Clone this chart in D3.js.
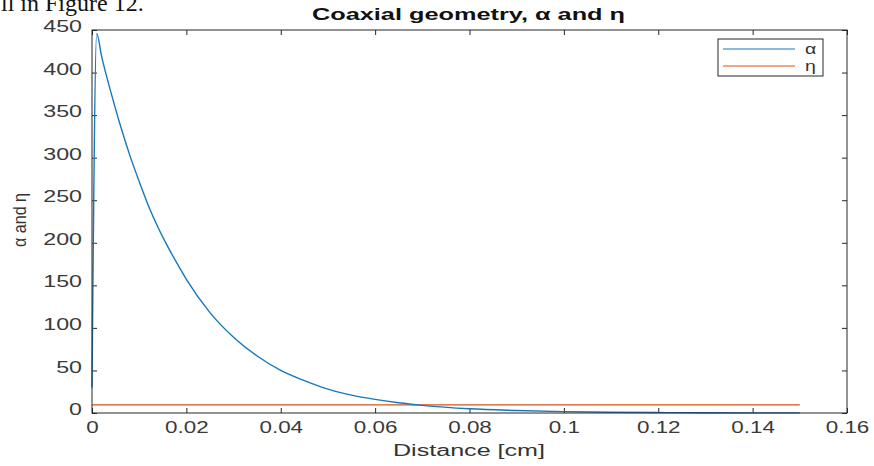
<!DOCTYPE html>
<html>
<head>
<meta charset="utf-8">
<script src="https://cdn.jsdelivr.net/npm/d3@7"></script>
<style>
  html, body { margin: 0; padding: 0; background: #fff; }
  svg { display: block; }
</style>
</head>
<body>
<svg id="chart" width="874" height="466"></svg>
<script>
// ---- data ----
const distance = [0, 0.001, 0.002, 0.004, 0.006, 0.008, 0.010, 0.012, 0.014, 0.016, 0.018, 0.020,
  0.025, 0.030, 0.035, 0.040, 0.045, 0.050, 0.055, 0.060, 0.065, 0.070, 0.080, 0.090,
  0.100, 0.110, 0.120, 0.130, 0.140, 0.150];
const alphaValues = [30, 446, 420, 377, 338, 303, 272, 243, 218, 196, 176, 157,
  118, 89, 67, 50, 38, 28, 21, 16, 12, 9, 5, 3,
  1.6, 0.9, 0.5, 0.3, 0.15, 0.1];
const etaDistance = [0, 0.15];
const etaValues = [9.5, 9.5];
const xTicks = [0, 0.02, 0.04, 0.06, 0.08, 0.1, 0.12, 0.14, 0.16];
const yTicks = [0, 50, 100, 150, 200, 250, 300, 350, 400, 450];
const seriesNames = ["α", "η"];
const titleText = "Coaxial geometry, α and η";
const xLabelText = "Distance [cm]";
const yLabelText = "α and η";
const captionText = "ll in Figure 12.";

// ---- layout ----
const svg = d3.select("#chart");
const L = 92, R = 847, T = 30, B = 413;
const x = d3.scaleLinear().domain([0, 0.16]).range([L, R]);
const y = d3.scaleLinear().domain([0, 450]).range([B, T]);
const axisColor = "#262626";
const textColor = "#333";
const blue = "#1678bb";
const orange = "#D95319";
const tickFont = "Liberation Sans, Arial, sans-serif";

function stretch(sel, factor) {
  sel.each(function () {
    const len = this.getComputedTextLength();
    d3.select(this).attr("textLength", len * factor).attr("lengthAdjust", "spacingAndGlyphs");
  });
}

// caption fragment (document text above the figure, cut at the top edge as in the reference)
svg.append("text")
  .attr("x", 1).attr("y", 11)
  .attr("font-family", "Liberation Serif, Times New Roman, serif")
  .attr("font-size", 24)
  .attr("fill", "#111")
  .text(captionText);

// plot background
svg.append("rect").attr("x", L).attr("y", T).attr("width", R - L).attr("height", B - T).attr("fill", "#fff");

// axes
const fmtX = d => (d === 0 ? "0" : String(+d.toFixed(2)));
const xAxisBottom = d3.axisBottom(x).tickValues(xTicks).tickSize(-5).tickPadding(9).tickFormat(fmtX);
const xAxisTop = d3.axisTop(x).tickValues(xTicks).tickSize(-5).tickFormat("");
const yAxisLeft = d3.axisLeft(y).tickValues(yTicks).tickSize(-5).tickPadding(10);
const yAxisRight = d3.axisRight(y).tickValues(yTicks).tickSize(-5).tickFormat("");

function styleAxis(g) {
  g.select(".domain").remove();
  g.selectAll(".tick line").attr("stroke", axisColor).attr("stroke-width", 1);
  g.selectAll(".tick text").attr("fill", "#3a3a3a").attr("font-family", tickFont).attr("font-size", 16);
}

const gxb = svg.append("g").attr("transform", `translate(0,${B})`).call(xAxisBottom).call(styleAxis);
gxb.selectAll(".tick text").call(stretch, 1.4);
svg.append("g").attr("transform", `translate(0,${T})`).call(xAxisTop).call(styleAxis);
const gyl = svg.append("g").attr("transform", `translate(${L},0)`).call(yAxisLeft).call(styleAxis);
gyl.selectAll(".tick text").attr("dy", "0.1em").call(stretch, 1.45);
svg.append("g").attr("transform", `translate(${R},0)`).call(yAxisRight).call(styleAxis);

// series
const lineGen = d3.line().x(d => x(d[0])).y(d => y(d[1])).curve(d3.curveMonotoneX);
const alphaData = distance.map((d, i) => [d, alphaValues[i]]);
const etaData = etaDistance.map((d, i) => [d, etaValues[i]]);

svg.append("path").datum(etaData).attr("d", lineGen)
  .attr("fill", "none").attr("stroke", orange).attr("stroke-width", 1.1);
svg.append("path").datum(alphaData).attr("d", lineGen)
  .attr("fill", "none").attr("stroke", blue).attr("stroke-width", 1.4).attr("stroke-linejoin", "round");

// box
svg.append("rect").attr("x", L).attr("y", T).attr("width", R - L).attr("height", B - T)
  .attr("fill", "none").attr("stroke", axisColor).attr("stroke-width", 1);

// title
svg.append("text").attr("x", (L + R) / 2 - 1).attr("y", 20)
  .attr("text-anchor", "middle").attr("font-family", tickFont).attr("font-weight", "bold")
  .attr("font-size", 16).attr("fill", "#111")
  .attr("textLength", 313).attr("lengthAdjust", "spacingAndGlyphs")
  .text(titleText);

// x label
svg.append("text").attr("x", 469).attr("y", 456)
  .attr("text-anchor", "middle").attr("font-family", tickFont)
  .attr("font-size", 16).attr("fill", textColor)
  .attr("textLength", 152).attr("lengthAdjust", "spacingAndGlyphs")
  .text(xLabelText);

// y label
svg.append("text")
  .attr("transform", "translate(26,220) rotate(-90) scale(1,1.3)")
  .attr("text-anchor", "middle").attr("font-family", tickFont)
  .attr("font-size", 14).attr("fill", textColor)
  .attr("textLength", 54).attr("lengthAdjust", "spacingAndGlyphs")
  .text(yLabelText);

// legend
const lgX = 718, lgY = 39, lgW = 105, lgH = 37;
svg.append("rect").attr("x", lgX).attr("y", lgY).attr("width", lgW).attr("height", lgH)
  .attr("fill", "#fff").attr("stroke", axisColor).attr("stroke-width", 1);
const legendColors = [blue, orange];
seriesNames.forEach((name, i) => {
  const ly = lgY + 10 + i * 17;
  svg.append("line").attr("x1", lgX + 5).attr("x2", lgX + 77).attr("y1", ly).attr("y2", ly)
    .attr("stroke", legendColors[i]).attr("stroke-width", 1.2);
  svg.append("text").attr("x", lgX + 87).attr("y", ly + 5)
    .attr("font-family", tickFont).attr("font-size", 15).attr("fill", textColor)
    .text(name).call(stretch, 1.3);
});
</script>
</body>
</html>
